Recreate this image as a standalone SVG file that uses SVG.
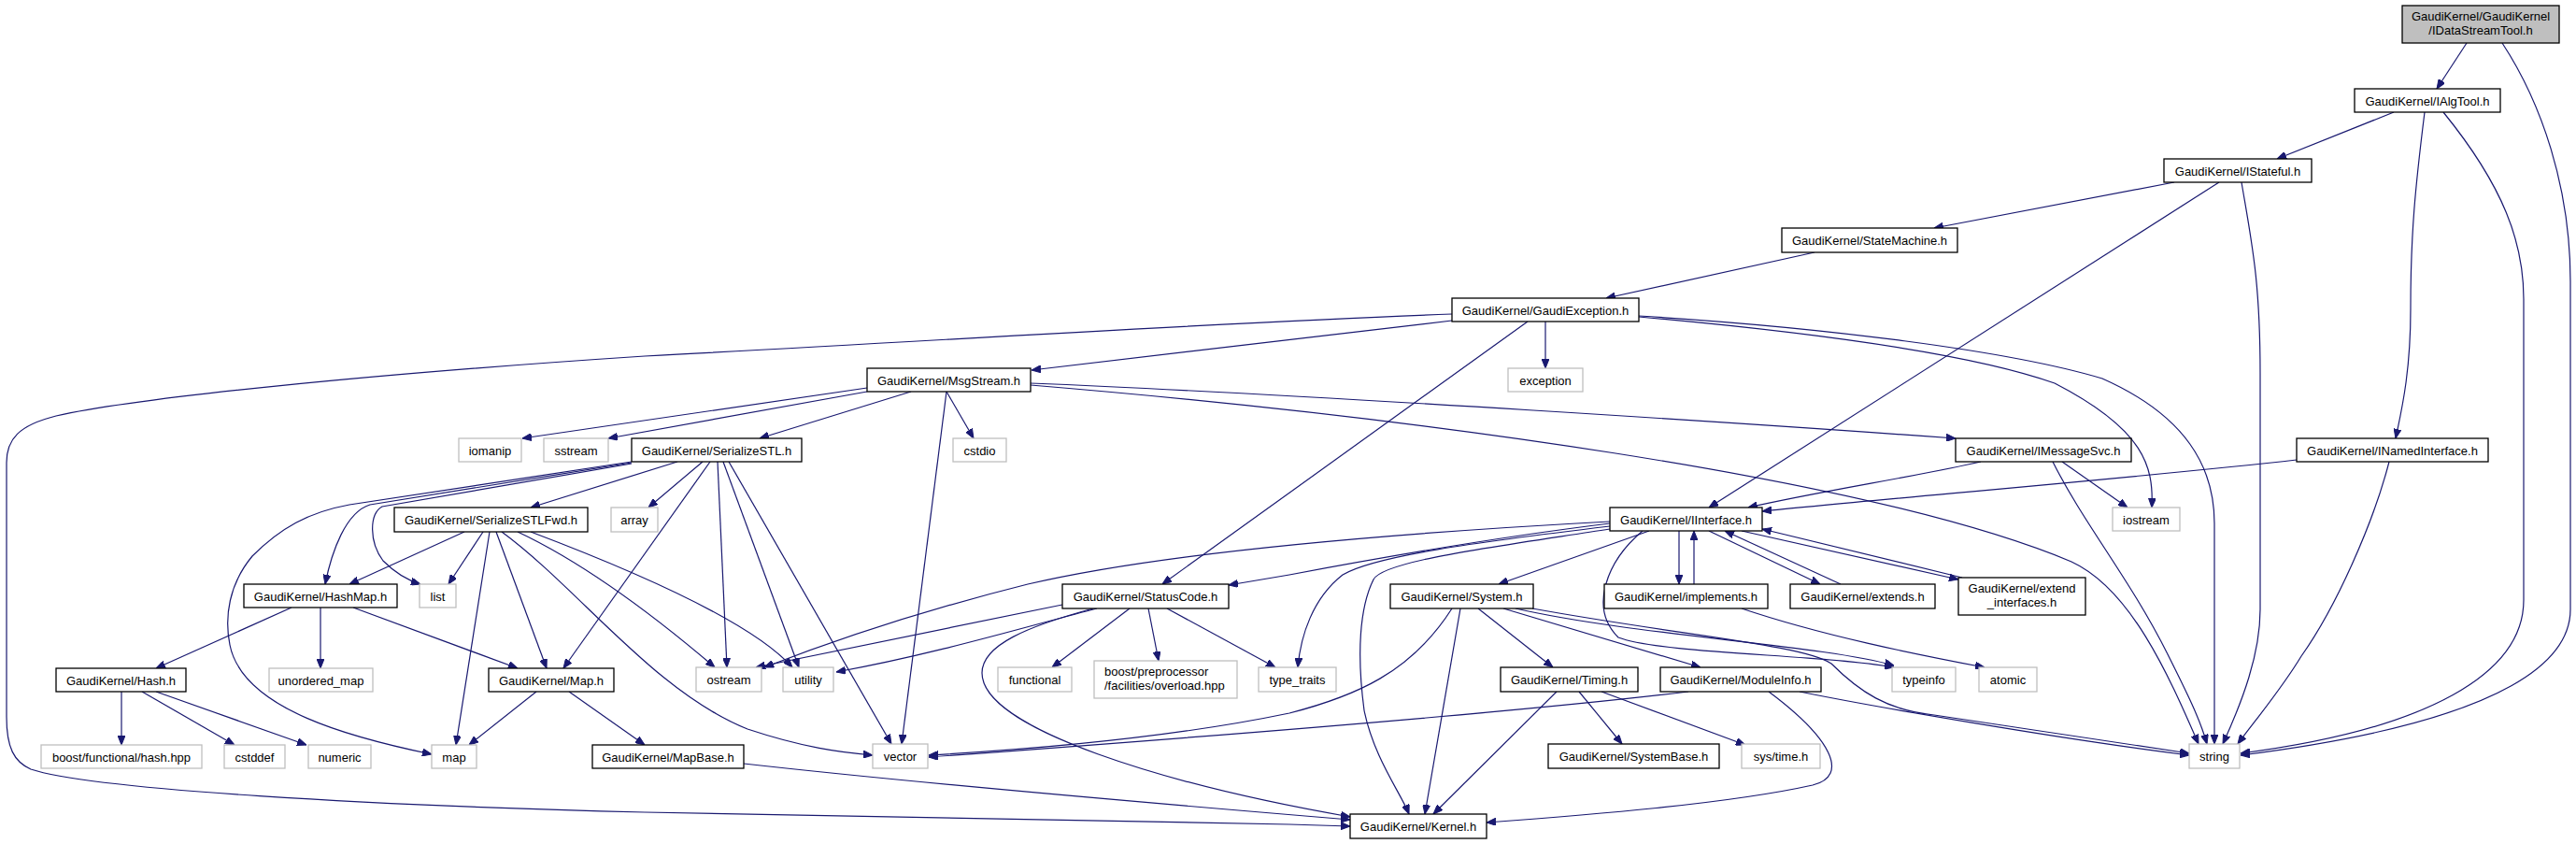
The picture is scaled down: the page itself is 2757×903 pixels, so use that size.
<svg xmlns="http://www.w3.org/2000/svg" width="2757" height="903" viewBox="0 0 2757 903">
<defs>
<marker id="a" markerWidth="10" markerHeight="8" refX="10" refY="4" orient="auto" markerUnits="userSpaceOnUse"><path d="M0,0 L10,4 L0,8 z" fill="#191970" stroke="#191970" stroke-width="1"/></marker>
<style>
.n rect{fill:#fff;stroke:#000;stroke-width:1.3}
.g rect{fill:#fff;stroke:#bfbfbf;stroke-width:1.3}
.r rect{fill:#bfbfbf;stroke:#000;stroke-width:1.3}
text{font-family:"Liberation Sans",Arial,Helvetica,sans-serif;font-size:13px;text-anchor:middle;fill:#000}
#edges path{fill:none;stroke:#191970;stroke-width:1.2;marker-end:url(#a)}
</style>
</defs>
<rect width="2757" height="903" fill="#fff"/>
<g id="edges">
<path d="M2640,46 L2608,95"/>
<path d="M2678,46 C2720,110 2751,200 2751,301 L2751,652 C2751,700 2700,770 2398,808"/>
<path d="M2562,120 L2437,170"/>
<path d="M2595,120 C2585,200 2580,250 2580,330 C2580,400 2570,440 2564,469"/>
<path d="M2615,120 C2680,200 2701,260 2701,320 L2701,642 C2701,720 2600,780 2398,806"/>
<path d="M2327,195 L2070,244"/>
<path d="M2375,195 L1829,543"/>
<path d="M2399,195 C2410,260 2419,300 2419,400 L2419,652 C2419,700 2400,750 2379,796"/>
<path d="M1942,270 L1719,319"/>
<path d="M1554,343 L1104,396"/>
<path d="M1654,344 L1654,394"/>
<path d="M1635,344 L1244,625"/>
<path d="M1554,336 C1300,345 1000,365 690,381 C400,400 150,425 60,445 C20,455 7,470 7,495 L7,767 C7,800 15,815 33,823 C100,845 400,862 690,869 L1380,882 L1445,884"/>
<path d="M1754,339 C1900,352 2100,375 2199,410 C2296,460 2305,500 2303,543"/>
<path d="M1754,338 C1950,350 2150,375 2250,405 C2340,445 2370,500 2370,560 L2370,796"/>
<path d="M928,415 L559,469"/>
<path d="M928,419 L651,469"/>
<path d="M975,419 L813,469"/>
<path d="M1013,419 L1042,469"/>
<path d="M1013,419 L965,796"/>
<path d="M1103,410 C1400,422 1900,455 2093,469"/>
<path d="M1103,412 C1500,445 2000,510 2217,601 C2280,630 2320,720 2353,796"/>
<path d="M725,494 L568,543"/>
<path d="M752,494 L694,543"/>
<path d="M760,494 L603,715"/>
<path d="M768,494 L778,714"/>
<path d="M774,494 L855,714"/>
<path d="M780,494 L954,796"/>
<path d="M676,495 L396,540 C370,548 355,590 348,625"/>
<path d="M676,496 L409,542 C395,550 395,580 410,600 C425,615 440,622 450,625"/>
<path d="M676,494 L374,540 C330,548 300,565 270,595 C245,625 240,660 246,690 C260,760 380,790 462,807"/>
<path d="M497,569 L374,625"/>
<path d="M517,569 L480,625"/>
<path d="M524,569 L488,797"/>
<path d="M531,569 L585,715"/>
<path d="M537,569 C620,630 700,740 800,780 C860,800 900,805 934,808"/>
<path d="M554,569 C620,600 690,650 765,714"/>
<path d="M568,569 C650,600 800,660 848,714"/>
<path d="M312,650 L167,715"/>
<path d="M343,650 L343,715"/>
<path d="M378,650 L554,715"/>
<path d="M130,740 L130,797"/>
<path d="M152,740 L251,797"/>
<path d="M167,740 L328,797"/>
<path d="M574,740 L502,797"/>
<path d="M609,740 L690,797"/>
<path d="M796,817 C1000,840 1300,865 1445,877"/>
<path d="M1137,647 L809,714"/>
<path d="M1174,651 C1100,670 1000,700 895,719"/>
<path d="M1209,651 L1126,714"/>
<path d="M1229,651 L1240,707"/>
<path d="M1249,651 L1365,714"/>
<path d="M1170,651 C1100,670 1051,690 1051,720 C1051,780 1250,840 1445,874"/>
<path d="M1723,560 C1600,575 1470,598 1380,615 L1315,626"/>
<path d="M1723,558 C1500,570 1250,590 1100,625 C980,655 880,690 818,714"/>
<path d="M1723,563 C1580,580 1470,595 1437,615 C1405,640 1392,680 1389,714"/>
<path d="M1723,566 C1600,585 1480,600 1470,620 C1455,650 1452,700 1460,760 C1470,810 1500,850 1508,871"/>
<path d="M1765,568 L1604,625"/>
<path d="M1797,568 L1797,625"/>
<path d="M1813,625 L1813,568"/>
<path d="M1829,568 L1948,625"/>
<path d="M1970,625 L1846,568"/>
<path d="M1864,568 L2096,620"/>
<path d="M2100,618 L1886,566"/>
<path d="M1758,568 C1720,600 1700,650 1732,682 C1780,700 1950,700 2027,714"/>
<path d="M1554,651 C1510,720 1450,745 1380,763 C1250,790 1100,802 994,808"/>
<path d="M1563,651 L1525,871"/>
<path d="M1582,651 L1662,714"/>
<path d="M1609,651 L1820,714"/>
<path d="M1622,651 C1750,680 1950,690 2027,712"/>
<path d="M1640,651 C1800,680 1930,690 1960,710 C1990,740 2020,760 2070,765 C2200,785 2300,800 2343,806"/>
<path d="M1807,740 C1600,765 1200,795 994,810"/>
<path d="M1893,740 C1960,790 1980,830 1940,840 C1850,860 1700,872 1591,880"/>
<path d="M1926,740 C2000,755 2200,790 2343,808"/>
<path d="M1666,740 L1534,871"/>
<path d="M1690,740 L1736,796"/>
<path d="M1714,740 L1868,797"/>
<path d="M1864,651 C1950,680 2050,700 2124,714"/>
<path d="M2120,494 C2050,510 1950,525 1871,543"/>
<path d="M2207,494 L2277,543"/>
<path d="M2197,494 C2230,560 2280,620 2320,700 C2340,740 2355,770 2362,796"/>
<path d="M2458,492 C2300,510 2000,535 1886,547"/>
<path d="M2557,494 C2540,560 2500,650 2463,702 C2440,740 2410,775 2395,796"/>
</g>
<g id="nodes">
<g id="node-idatastreamtool" class="r"><rect x="2571" y="6" width="168" height="40"/><text x="2655" y="22">GaudiKernel/GaudiKernel</text><text x="2655" y="37">/IDataStreamTool.h</text></g>
<g id="node-ialgtool" class="n"><rect x="2520" y="95" width="156" height="25"/><text x="2598" y="112.5">GaudiKernel/IAlgTool.h</text></g>
<g id="node-istateful" class="n"><rect x="2316" y="170" width="158" height="25"/><text x="2395" y="187.5">GaudiKernel/IStateful.h</text></g>
<g id="node-statemachine" class="n"><rect x="1907" y="244" width="188" height="26"/><text x="2001" y="261.5">GaudiKernel/StateMachine.h</text></g>
<g id="node-gaudiexception" class="n"><rect x="1554" y="319" width="200" height="25"/><text x="1654" y="336.5">GaudiKernel/GaudiException.h</text></g>
<g id="node-msgstream" class="n"><rect x="928" y="394" width="175" height="25"/><text x="1015.5" y="411.5">GaudiKernel/MsgStream.h</text></g>
<g id="node-exception" class="g"><rect x="1614" y="394" width="80" height="25"/><text x="1654" y="411.5">exception</text></g>
<g id="node-serializestl" class="n"><rect x="676" y="469" width="182" height="25"/><text x="767" y="486.5">GaudiKernel/SerializeSTL.h</text></g>
<g id="node-iomanip" class="g"><rect x="491" y="469" width="67" height="25"/><text x="524.5" y="486.5">iomanip</text></g>
<g id="node-sstream" class="g"><rect x="582" y="469" width="69" height="25"/><text x="616.5" y="486.5">sstream</text></g>
<g id="node-cstdio" class="g"><rect x="1020" y="469" width="57" height="25"/><text x="1048.5" y="486.5">cstdio</text></g>
<g id="node-imessagesvc" class="n"><rect x="2093" y="469" width="188" height="25"/><text x="2187" y="486.5">GaudiKernel/IMessageSvc.h</text></g>
<g id="node-inamedinterface" class="n"><rect x="2458" y="469" width="205" height="25"/><text x="2560.5" y="486.5">GaudiKernel/INamedInterface.h</text></g>
<g id="node-serializestlfwd" class="n"><rect x="422" y="543" width="207" height="26"/><text x="525.5" y="560.5">GaudiKernel/SerializeSTLFwd.h</text></g>
<g id="node-array" class="g"><rect x="654" y="543" width="50" height="26"/><text x="679" y="560.5">array</text></g>
<g id="node-iinterface" class="n"><rect x="1723" y="543" width="163" height="25"/><text x="1804.5" y="560.5">GaudiKernel/IInterface.h</text></g>
<g id="node-iostream" class="g"><rect x="2261" y="543" width="72" height="25"/><text x="2297" y="560.5">iostream</text></g>
<g id="node-hashmap" class="n"><rect x="261" y="625" width="164" height="25"/><text x="343" y="642.5">GaudiKernel/HashMap.h</text></g>
<g id="node-list" class="g"><rect x="449" y="625" width="39" height="25"/><text x="468.5" y="642.5">list</text></g>
<g id="node-statuscode" class="n"><rect x="1137" y="625" width="178" height="26"/><text x="1226" y="642.5">GaudiKernel/StatusCode.h</text></g>
<g id="node-system" class="n"><rect x="1488" y="625" width="153" height="26"/><text x="1564.5" y="642.5">GaudiKernel/System.h</text></g>
<g id="node-implements" class="n"><rect x="1717" y="625" width="175" height="26"/><text x="1804.5" y="642.5">GaudiKernel/implements.h</text></g>
<g id="node-extends" class="n"><rect x="1916" y="625" width="155" height="26"/><text x="1993.5" y="642.5">GaudiKernel/extends.h</text></g>
<g id="node-extend-interfaces" class="n"><rect x="2096" y="618" width="136" height="40"/><text x="2164" y="634">GaudiKernel/extend</text><text x="2164" y="649">_interfaces.h</text></g>
<g id="node-hash" class="n"><rect x="60" y="715" width="139" height="25"/><text x="129.5" y="732.5">GaudiKernel/Hash.h</text></g>
<g id="node-unordered-map" class="g"><rect x="288" y="715" width="111" height="25"/><text x="343.5" y="732.5">unordered_map</text></g>
<g id="node-map-h" class="n"><rect x="523" y="715" width="134" height="25"/><text x="590" y="732.5">GaudiKernel/Map.h</text></g>
<g id="node-ostream" class="g"><rect x="745" y="714" width="70" height="26"/><text x="780" y="731.5">ostream</text></g>
<g id="node-utility" class="g"><rect x="838" y="714" width="54" height="26"/><text x="865" y="731.5">utility</text></g>
<g id="node-functional" class="g"><rect x="1068" y="714" width="79" height="26"/><text x="1107.5" y="731.5">functional</text></g>
<g id="node-boost-pp" class="g"><rect x="1171" y="707" width="153" height="40"/><text x="1182" y="723" style="text-anchor:start">boost/preprocessor</text><text x="1182" y="738" style="text-anchor:start">/facilities/overload.hpp</text></g>
<g id="node-type-traits" class="g"><rect x="1347" y="714" width="83" height="26"/><text x="1388.5" y="731.5">type_traits</text></g>
<g id="node-timing" class="n"><rect x="1606" y="714" width="147" height="26"/><text x="1679.5" y="731.5">GaudiKernel/Timing.h</text></g>
<g id="node-moduleinfo" class="n"><rect x="1777" y="714" width="172" height="26"/><text x="1863" y="731.5">GaudiKernel/ModuleInfo.h</text></g>
<g id="node-typeinfo" class="g"><rect x="2025" y="714" width="68" height="26"/><text x="2059" y="731.5">typeinfo</text></g>
<g id="node-atomic" class="g"><rect x="2118" y="714" width="62" height="26"/><text x="2149" y="731.5">atomic</text></g>
<g id="node-boost-hash" class="g"><rect x="44" y="797" width="172" height="25"/><text x="130" y="814.5">boost/functional/hash.hpp</text></g>
<g id="node-cstddef" class="g"><rect x="240" y="797" width="65" height="25"/><text x="272.5" y="814.5">cstddef</text></g>
<g id="node-numeric" class="g"><rect x="330" y="797" width="67" height="25"/><text x="363.5" y="814.5">numeric</text></g>
<g id="node-map" class="g"><rect x="462" y="797" width="48" height="25"/><text x="486" y="814.5">map</text></g>
<g id="node-mapbase" class="n"><rect x="634" y="797" width="162" height="25"/><text x="715" y="814.5">GaudiKernel/MapBase.h</text></g>
<g id="node-vector" class="g"><rect x="934" y="796" width="59" height="26"/><text x="963.5" y="813.5">vector</text></g>
<g id="node-systembase" class="n"><rect x="1657" y="796" width="183" height="26"/><text x="1748.5" y="813.5">GaudiKernel/SystemBase.h</text></g>
<g id="node-systime" class="g"><rect x="1864" y="796" width="84" height="26"/><text x="1906" y="813.5">sys/time.h</text></g>
<g id="node-string" class="g"><rect x="2343" y="796" width="54" height="26"/><text x="2370" y="813.5">string</text></g>
<g id="node-kernel" class="n"><rect x="1445" y="871" width="146" height="26"/><text x="1518" y="888.5">GaudiKernel/Kernel.h</text></g>
</g>
</svg>
